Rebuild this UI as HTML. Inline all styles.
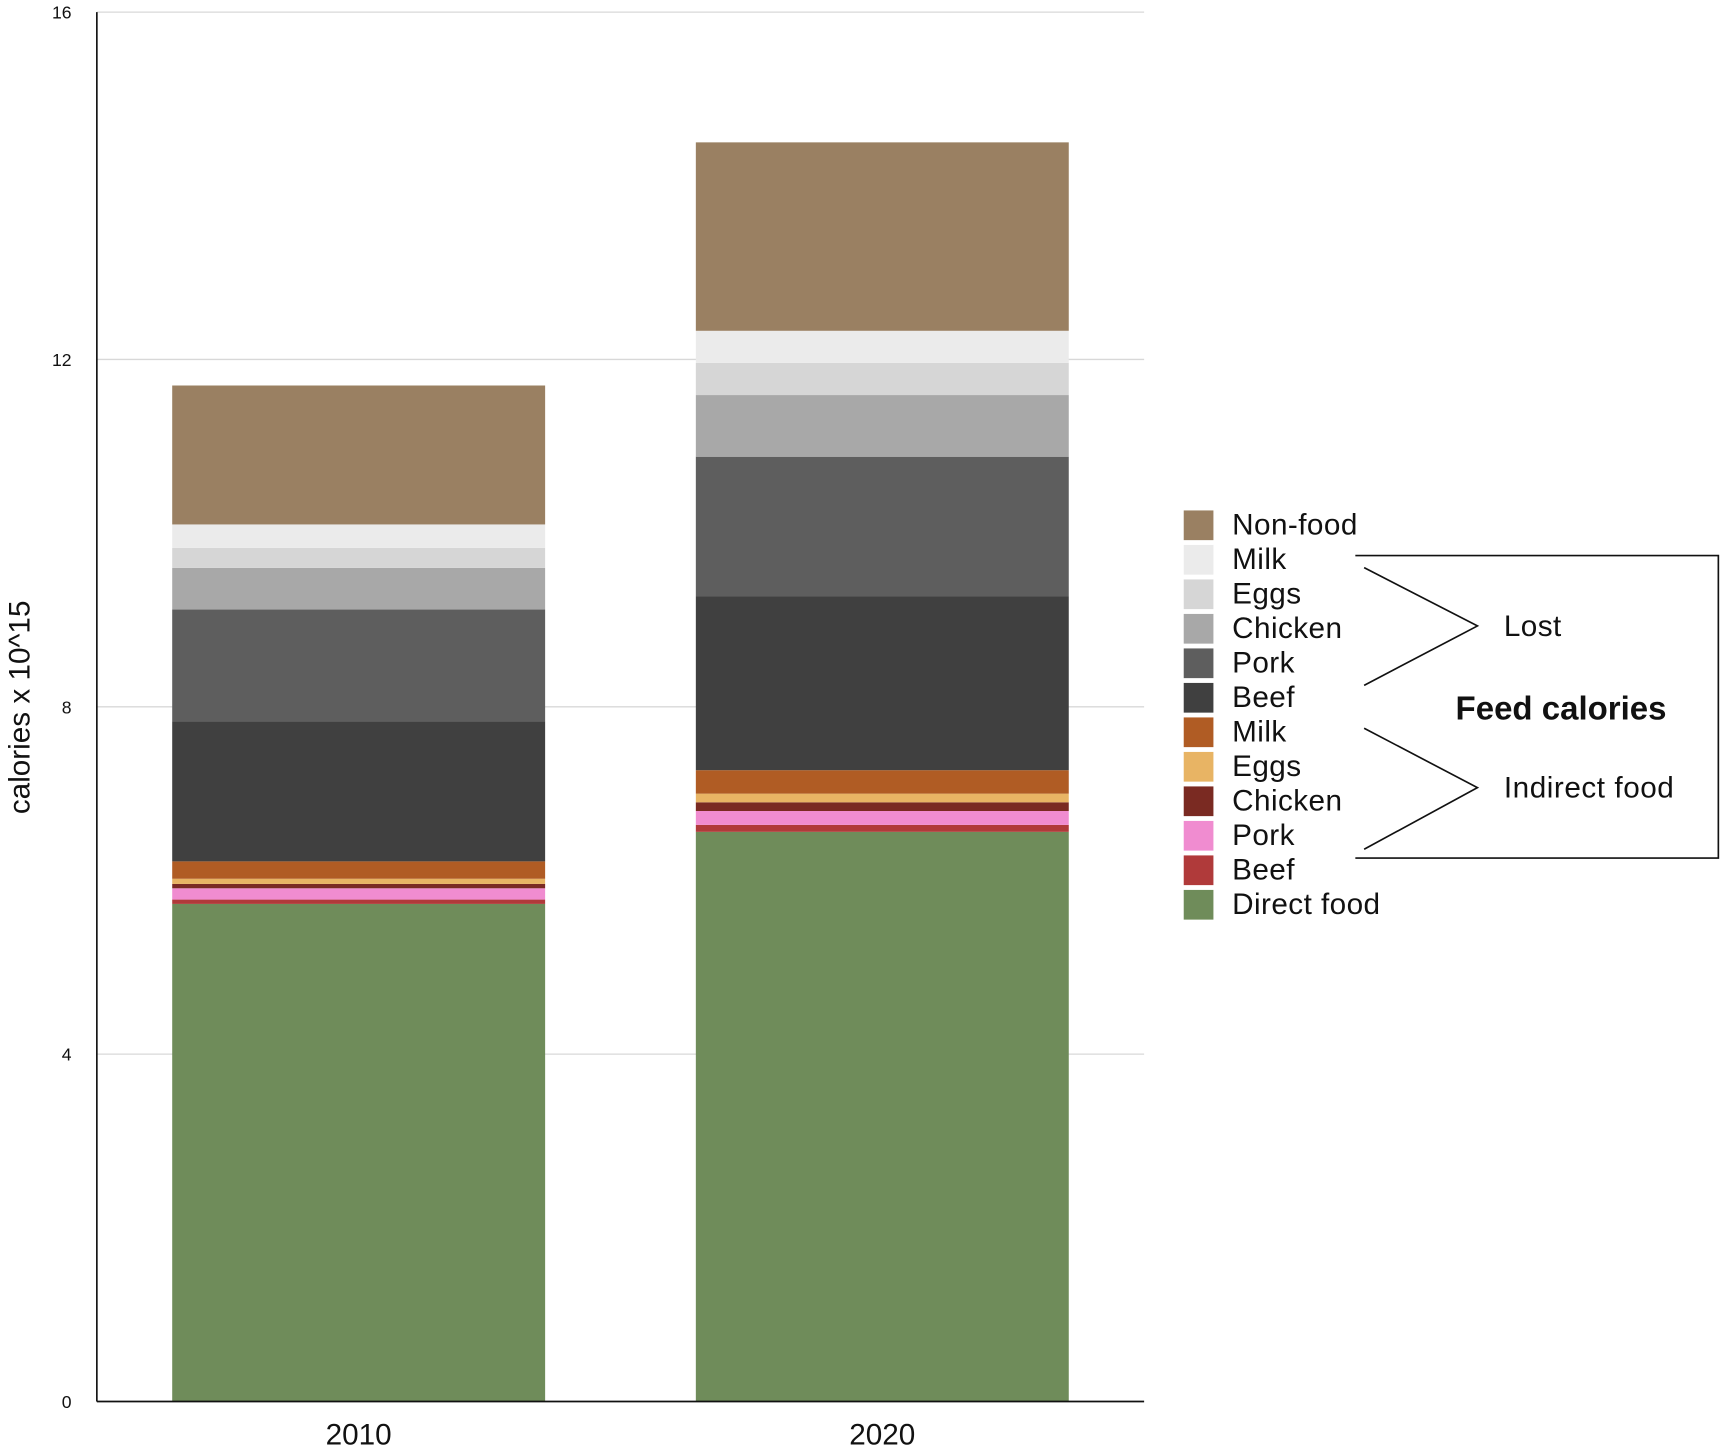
<!DOCTYPE html>
<html><head><meta charset="utf-8"><style>html,body{margin:0;padding:0;background:#fff}svg{display:block;font-family:"Liberation Sans",Arial,sans-serif}</style></head>
<body>
<svg id="chart" width="1725" height="1451" viewBox="0 0 1568 1319" xmlns="http://www.w3.org/2000/svg">
<g id="grid"></g>
<g id="bars"></g>
<g id="axes"></g>
<text x="0" y="0" transform="translate(27,643) rotate(-90)" text-anchor="middle" font-size="27" fill="#111">calories x 10^15</text>
<g id="legend"></g>
<g fill="none" stroke="#111" stroke-width="1.5">
<polyline points="1240,516 1343,569 1240,623"/>
<polyline points="1240,662 1343,716 1240,772"/>
<polyline points="1232,505 1562,505 1562,780 1232,780"/>
</g>
<text x="1367" y="578" font-size="27" letter-spacing="0.4" fill="#111">Lost</text>
<text x="1367" y="725" font-size="27" letter-spacing="0.5" fill="#111">Indirect food</text>
<text x="1419" y="654" font-size="30" font-weight="bold" text-anchor="middle" fill="#111">Feed calories</text>
</svg>
<script>
const categories = ["2010", "2020"];
const seriesNames = ["Direct food","Beef","Pork","Chicken","Eggs","Milk","Beef lost","Pork lost","Chicken lost","Eggs lost","Milk lost","Non-food"];
const seriesColors = ["#6f8c5a","#b03a3a","#f08cd0","#7a2a22","#e8b464","#b05c24","#404040","#5e5e5e","#a8a8a8","#d6d6d6","#ebebeb","#9a8062"];
const values2010 = [5.73,0.05,0.13,0.05,0.06,0.20,1.61,1.29,0.48,0.23,0.27,1.60];
const values2020 = [6.56,0.08,0.16,0.10,0.10,0.27,2.00,1.61,0.71,0.37,0.37,2.17];
const yTicks = [0,4,8,12,16];
const legendLabels = ["Non-food","Milk","Eggs","Chicken","Pork","Beef","Milk","Eggs","Chicken","Pork","Beef","Direct food"];
const legendColors = ["#9a8062","#ebebeb","#d6d6d6","#a8a8a8","#5e5e5e","#404040","#b05c24","#e8b464","#7a2a22","#f08cd0","#b03a3a","#6f8c5a"];

const NS="http://www.w3.org/2000/svg";
const x0=88,x1=1040,yBase=1274,yTop=11,yMax=16;
const y=v=>yBase-(v/yMax)*(yBase-yTop);
const bandW=(x1-x0)/categories.length, barW=339;
const xc=i=>x0+bandW*(i+0.5);
function mk(tag,attrs,parent){const e=document.createElementNS(NS,tag);for(const k in attrs)e.setAttribute(k,attrs[k]);parent.appendChild(e);return e;}
const grid=document.getElementById('grid'),bars=document.getElementById('bars'),axes=document.getElementById('axes'),legend=document.getElementById('legend');
yTicks.forEach(t=>{
  if(t>0){const l=mk('line',{x1:x0,x2:x1,y1:y(t),y2:y(t),stroke:'#d8d8d8','stroke-width':1.2},grid);
  
  }
  const tx=mk('text',{x:65,y:y(t)+6,'text-anchor':'end','font-size':16,fill:'#111'},axes);
  tx.textContent=t;
  
  
});
[values2010,values2020].forEach((vals,i)=>{
  let cum=0;
  vals.forEach((v,j)=>{
    const r=mk('rect',{x:xc(i)-barW/2,y:y(cum+v),width:barW,height:y(cum)-y(cum+v),fill:seriesColors[j]},bars);
    
    
    cum+=v;
  });
  const tx=mk('text',{x:xc(i),y:1313,'text-anchor':'middle','font-size':27,fill:'#111'},axes);
  tx.textContent=categories[i];
  
  
});
const ya=mk('line',{x1:x0,x2:x0,y1:yTop,y2:yBase,stroke:'#111','stroke-width':1.5},axes);


const xa=mk('line',{x1:x0,x2:x1,y1:yBase,y2:yBase,stroke:'#111','stroke-width':1.5},axes);


legendLabels.forEach((lab,k)=>{
  const cy=477+k*31.36;
  const g=mk('g',{},legend);
  
  
  mk('rect',{x:1076,y:cy-13,width:27,height:27,fill:legendColors[k]},g);
  const t=mk('text',{x:1120,y:cy+9,'font-size':27,'letter-spacing':0.4,fill:'#111'},g);
  t.textContent=lab;
});
</script>
</body></html>
